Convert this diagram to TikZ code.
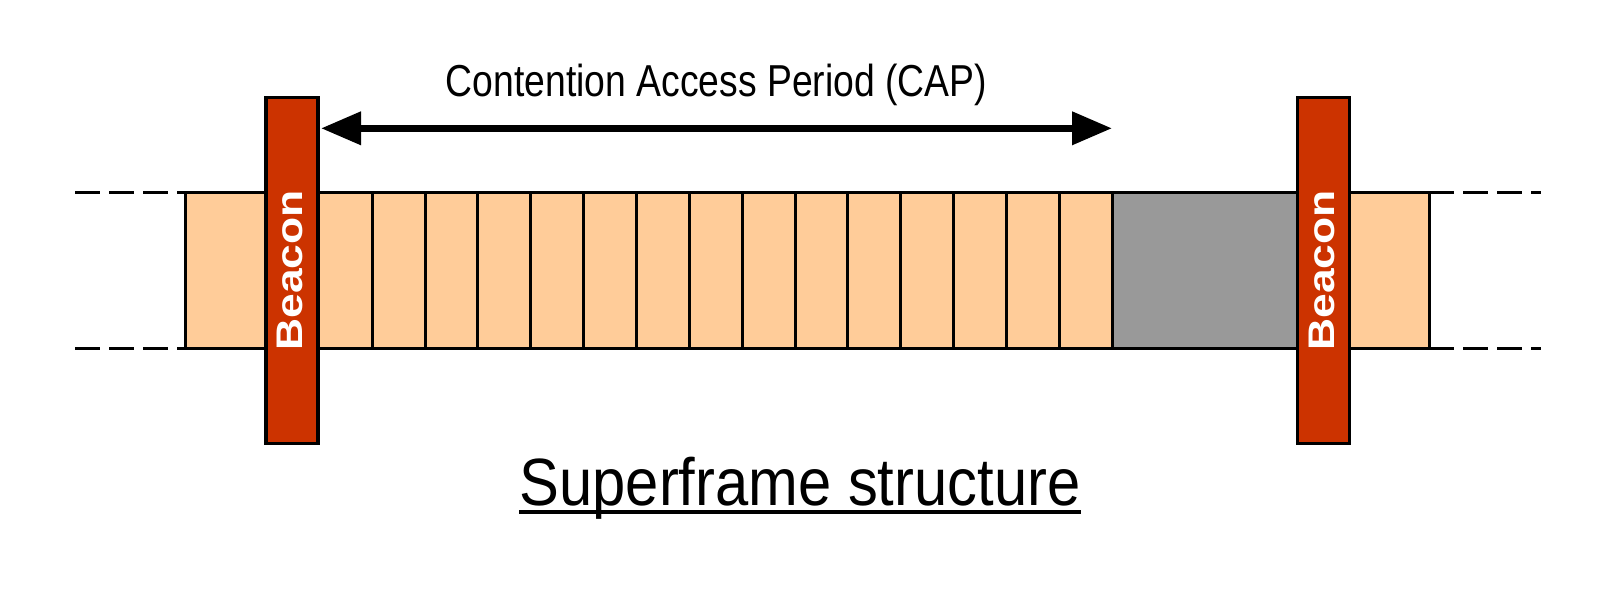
\documentclass[tikz,border=0pt]{standalone}
\usepackage{fontspec}
\setmainfont{Liberation Sans}
\usepackage{graphicx}
\usetikzlibrary{arrows.meta,calc}
\definecolor{slotfill}{HTML}{FFCC99}
\definecolor{beaconred}{HTML}{CC3300}
\definecolor{cfpgray}{HTML}{999999}
\begin{document}
\begin{tikzpicture}[x=1pt,y=-1pt,
  border/.style={draw=black,line width=3pt},
  beaconbox/.style={draw=black,line width=3.5pt,fill=beaconred,minimum width=52pt,minimum height=346pt,inner sep=0pt},
  beacontext/.style={text=white,rotate=90,inner sep=0pt,font=\bfseries\fontsize{37}{40}\selectfont},
  dashline/.style={line width=3pt,dash pattern=on 25pt off 9pt},
  caparrow/.style={line width=7pt,{Triangle[length=40pt,width=32pt]}-{Triangle[length=40pt,width=32pt]}}
]
\useasboundingbox (0,0) rectangle (1619,595);
% strip background
\fill[slotfill] (185,192.5) rectangle (1429,348.5);
\fill[cfpgray] (1112,192.5) rectangle (1296.7,348.5);
% slot dividers
\foreach \i in {1,...,14} {
  \draw[line width=3pt] ({319.3+\i*52.86},192.5) -- ({319.3+\i*52.86},348.5);
}
\draw[line width=3pt] (1112,192.5) -- (1112,348.5);
% outline
\draw[border,line cap=rect] (185,192.5) -- (1429,192.5);
\draw[border,line cap=rect] (185,348.5) -- (1429,348.5);
\draw[border] (185,192.5) -- (185,348.5);
\draw[border] (1429,192.5) -- (1429,348.5);
% dashed extensions
\draw[dashline] (75,192.5) -- (186,192.5);
\draw[dashline] (75,348.5) -- (186,348.5);
\draw[dashline] (1429,192.5) -- (1541,192.5);
\draw[dashline] (1429,348.5) -- (1541,348.5);
% beacons
\node[beaconbox] (b1) at (291.8,270.5) {};
\node[beaconbox] (b2) at (1323.7,270.5) {};
\node[beacontext] (b1t) at (289.5,270.5) {\scalebox{1.2}[1]{Beacon}};
\node[beacontext] (b2t) at (1321.5,270.5) {\scalebox{1.2}[1]{Beacon}};
% CAP arrow
\coordinate (capend) at (1112,128.3);
\draw[caparrow] (b1.east |- capend) ++(1.5pt,0) coordinate (capstart) -- (capend);
\node[anchor=base,inner sep=0pt,font=\fontsize{37.3}{40}\selectfont] (cap) at (716.5,96.7) {\scalebox{1}[1.2]{Contention Access Period (CAP)}};
% title
\node[anchor=base,inner sep=0pt,font=\fontsize{59.7}{64}\selectfont] (title) at (800,505) {\scalebox{1}[1.12]{Superframe structure}};
\draw[line width=4pt] ($(title.base west)+(0,6.5)$) -- ($(title.base east)+(0,6.5)$);
\end{tikzpicture}
\end{document}
